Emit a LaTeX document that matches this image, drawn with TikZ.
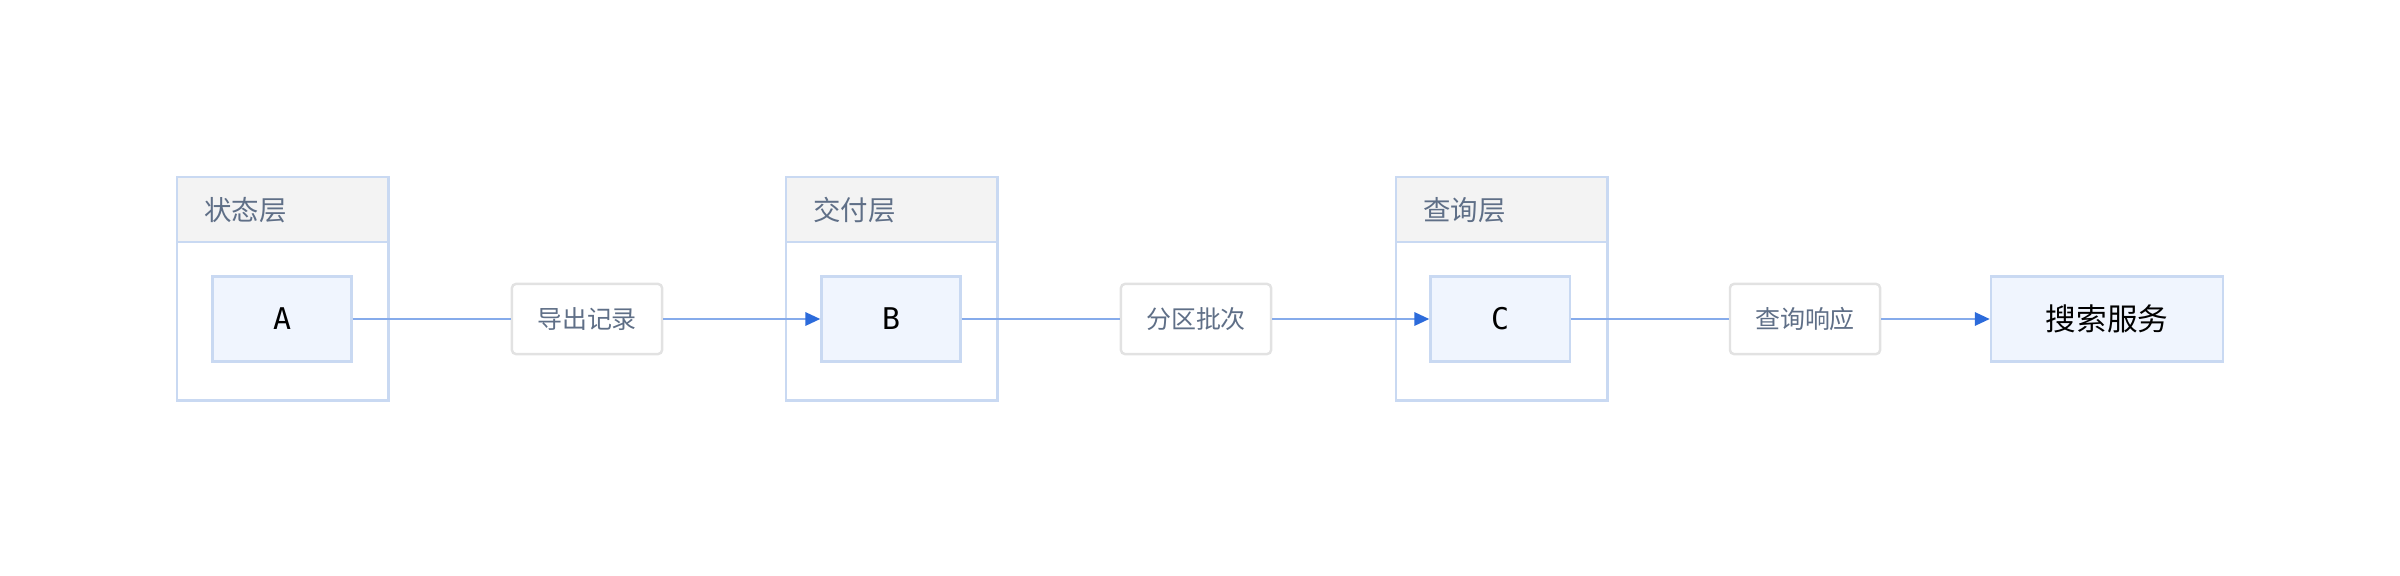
\documentclass[tikz,border=0pt]{standalone}
\usepackage{fontspec}
\setmainfont{Noto Sans CJK SC}
\newfontfamily\letterfont{DejaVu Sans Mono}
\usetikzlibrary{arrows.meta,positioning}
\definecolor{frameblue}{HTML}{C9D9F2}
\definecolor{headgray}{HTML}{F3F3F3}
\definecolor{boxfill}{HTML}{F0F5FE}
\definecolor{tagline}{HTML}{E2E2E2}
\definecolor{softtext}{HTML}{5F6F87}
\definecolor{flowblue}{HTML}{86ABEB}
\definecolor{tipblue}{HTML}{2C6BDB}
\tikzset{
  layer/.style={draw=frameblue, line width=0.7pt, fill=white, minimum width=2.11cm, minimum height=2.23cm, anchor=north west, inner sep=0pt},
  layerhead/.style={draw=frameblue, line width=0.7pt, fill=headgray, minimum height=0.65cm, text width=1.57cm, inner xsep=0.27cm, inner ysep=0pt, align=left, anchor=north west, text=softtext, font=\fontsize{7.8pt}{9pt}\selectfont},
  item/.style={draw=frameblue, line width=0.6pt, fill=boxfill, minimum width=1.39cm, minimum height=0.85cm, inner sep=0pt, font=\letterfont\fontsize{8.5pt}{10pt}\selectfont},
  service/.style={item, minimum width=2.32cm, font=\fontsize{8.7pt}{10pt}\selectfont},
  tag/.style={draw=tagline, line width=0.7pt, fill=white, rounded corners=1.1pt, minimum width=1.5cm, minimum height=0.7cm, inner sep=0pt, text=softtext, font=\fontsize{7.1pt}{8pt}\selectfont},
  flow/.style={draw=flowblue, line width=0.85pt},
  flowtip/.style={flow, -{Triangle[color=tipblue, length=0.15cm, width=0.13cm]}}
}
\begin{document}
\begin{tikzpicture}[x=0.01cm, y=-0.01cm]
    \useasboundingbox (0,0) rectangle (2400,576);

    \node[layer] (g1) at (176,176) {};
    \node[layerhead] (h1) at (g1.north west) {状态层};
    \node[layer] (g2) at (785,176) {};
    \node[layerhead] (h2) at (g2.north west) {交付层};
    \node[layer] (g3) at (1395,176) {};
    \node[layerhead] (h3) at (g3.north west) {查询层};

    \node[item] (A) at (282,319) {A};
    \node[item] (B) at (891,319) {B};
    \node[item] (C) at (1500,319) {C};
    \node[service] (S) at (2107,319) {搜索服务};

    \node[tag] (t1) at (587,319) {导出记录};
    \node[tag] (t2) at (1196,319) {分区批次};
    \node[tag] (t3) at (1805,319) {查询响应};

    \draw[flow] (A.east) -- (t1.west);
    \draw[flowtip] (t1.east) -- (B.west);
    \draw[flow] (B.east) -- (t2.west);
    \draw[flowtip] (t2.east) -- (C.west);
    \draw[flow] (C.east) -- (t3.west);
    \draw[flowtip] (t3.east) -- (S.west);

\end{tikzpicture}
\end{document}
